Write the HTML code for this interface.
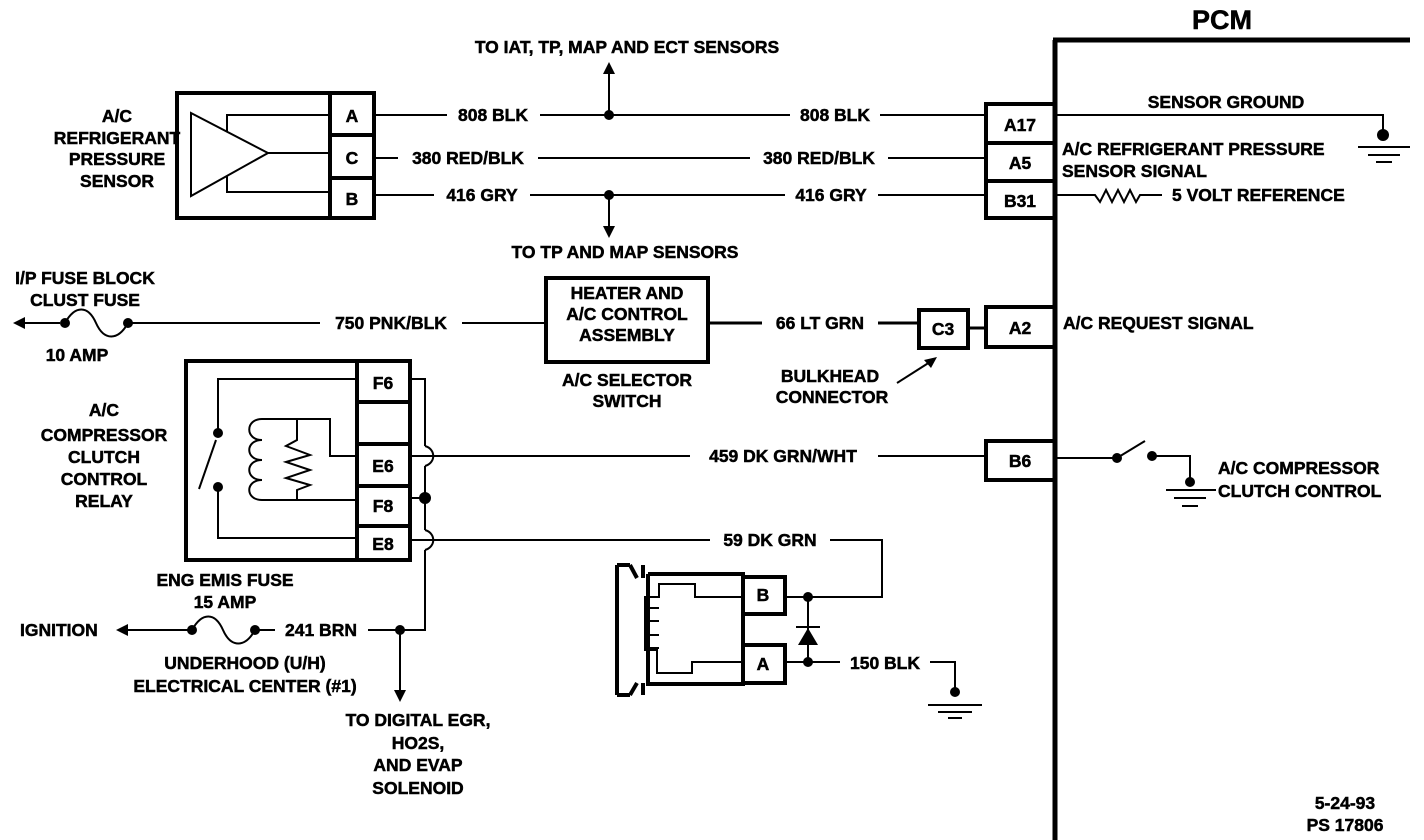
<!DOCTYPE html>
<html><head><style>
html,body{margin:0;padding:0;background:#fff;}
svg{display:block;}
text{font-family:"Liberation Sans",sans-serif;font-weight:bold;font-size:17.5px;fill:#000;stroke:#000;stroke-width:0.5px;}
</style></head><body>
<svg width="1424" height="840" viewBox="0 0 1424 840" xmlns="http://www.w3.org/2000/svg">
<g stroke="#000" fill="none" stroke-width="2">
<rect x="177" y="93" width="197" height="125" stroke-width="4"/>
<line x1="330" y1="93" x2="330" y2="218" stroke-width="4"/>
<line x1="330" y1="135" x2="374" y2="135" stroke-width="4"/>
<line x1="330" y1="178" x2="374" y2="178" stroke-width="4"/>
<polygon points="191,113 191,196 268,153"/>
<polyline points="227,131 227,115 330,115"/>
<polyline points="227,176 227,192 330,192"/>
<line x1="268" y1="153" x2="330" y2="153"/>
<line x1="374" y1="115" x2="447" y2="115"/><line x1="540" y1="115" x2="790" y2="115"/><line x1="880" y1="115" x2="985" y2="115"/>
<line x1="374" y1="158" x2="398" y2="158"/><line x1="538" y1="158" x2="750" y2="158"/><line x1="888" y1="158" x2="985" y2="158"/>
<line x1="374" y1="195" x2="434" y2="195"/><line x1="530" y1="195" x2="785" y2="195"/><line x1="878" y1="195" x2="985" y2="195"/>
<line x1="609" y1="115" x2="609" y2="72"/>
<line x1="609" y1="195" x2="609" y2="228"/>
<line x1="1055" y1="40" x2="1055" y2="840" stroke-width="5"/>
<line x1="1053" y1="40" x2="1410" y2="40" stroke-width="5"/>
<rect x="986" y="104" width="69" height="114" stroke-width="4"/>
<line x1="986" y1="143" x2="1055" y2="143" stroke-width="4"/>
<line x1="986" y1="181" x2="1055" y2="181" stroke-width="4"/>
<polyline points="1055,115 1383,115 1383,135"/>
<line x1="1358" y1="147" x2="1410" y2="147"/><line x1="1368" y1="155" x2="1400" y2="155"/><line x1="1376" y1="162" x2="1392" y2="162"/>
<polyline points="1055,195 1095,195 1100,202 1106,190 1112,202 1118,190 1124,202 1130,190 1136,202 1140,195 1162,195"/>
<line x1="22" y1="323" x2="60" y2="323"/>
<path d="M65,323 C75,305 88,305 96,323 C104,341 118,341 128,323"/>
<line x1="128" y1="323" x2="320" y2="323"/><line x1="462" y1="323" x2="545" y2="323"/>
<rect x="546" y="278" width="162" height="84" stroke-width="4"/>
<line x1="708" y1="323" x2="762" y2="323" stroke-width="3"/><line x1="878" y1="323" x2="918" y2="323" stroke-width="3"/>
<rect x="919" y="310" width="49" height="38" stroke-width="4"/>
<line x1="968" y1="328" x2="986" y2="328" stroke-width="3"/>
<rect x="986" y="307" width="69" height="40" stroke-width="4"/>
<line x1="897" y1="383" x2="930" y2="362"/>
<rect x="186" y="361" width="224" height="199" stroke-width="4"/>
<line x1="357" y1="361" x2="357" y2="560" stroke-width="4"/>
<line x1="357" y1="402" x2="410" y2="402" stroke-width="4"/>
<line x1="357" y1="444" x2="410" y2="444" stroke-width="4"/>
<line x1="357" y1="486" x2="410" y2="486" stroke-width="4"/>
<line x1="357" y1="526" x2="410" y2="526" stroke-width="4"/>
<polyline points="357,379 218,379 218,431"/>
<line x1="199" y1="489" x2="216" y2="440"/>
<polyline points="218,487 218,538 357,538"/>
<polyline points="262,419 330,419 330,456 357,456"/>
<line x1="262" y1="500" x2="357" y2="500"/>
<path d="M262,419 C245,419 245,440 262,440 C245,440 245,460 262,460 C245,460 245,480 262,480 C245,480 245,500 262,500"/>
<polyline points="297,419 297,440 286,446 310,455 286,462 310,470 286,478 310,485 297,490 297,500"/>
<polyline points="410,379 425,379 425,446"/>
<path d="M425,446 C436,449 436,463 425,466"/>
<line x1="425" y1="466" x2="425" y2="530"/>
<path d="M425,530 C436,533 436,547 425,550"/>
<polyline points="425,550 425,630 400,630"/>
<line x1="410" y1="498" x2="425" y2="498"/>
<line x1="410" y1="456" x2="690" y2="456"/><line x1="878" y1="456" x2="986" y2="456"/>
<line x1="410" y1="540" x2="710" y2="540"/><polyline points="830,540 882,540 882,597 808,597"/>
<line x1="128" y1="630" x2="190" y2="630"/>
<path d="M192,630 C202,612 215,612 223,630 C231,648 245,648 255,630"/>
<line x1="255" y1="630" x2="275" y2="630"/><line x1="368" y1="630" x2="400" y2="630"/>
<line x1="400" y1="630" x2="400" y2="692"/>
<rect x="986" y="441" width="69" height="39" stroke-width="4"/>
<line x1="1055" y1="458" x2="1115" y2="458"/>
<line x1="1117" y1="458" x2="1145" y2="441"/>
<polyline points="1152,456 1190,456 1190,482"/>
<line x1="1166" y1="490" x2="1216" y2="490"/><line x1="1174" y1="498" x2="1206" y2="498"/><line x1="1182" y1="506" x2="1198" y2="506"/>
<path d="M617,565 L617,695 M617,565 L630,565 M617,695 L630,695 M630,565 L637,578 M630,695 L637,683" stroke-width="4"/>
<path d="M643,565 L643,578 M643,683 L643,695" stroke-width="4"/>
<polyline points="648,574 743,574 743,684 648,684 648,574" stroke-width="4"/>
<rect x="743" y="577" width="42" height="37" stroke-width="4"/>
<rect x="743" y="645" width="42" height="38" stroke-width="4"/>
<polyline points="743,597 695,597 695,584 659,584 659,597 645,597 645,650 657,650 657,673 692,673 692,662 743,662"/>
<line x1="645" y1="608" x2="659" y2="608"/><line x1="645" y1="621" x2="659" y2="621"/><line x1="645" y1="635" x2="659" y2="635"/><line x1="645" y1="648" x2="659" y2="648"/>
<line x1="785" y1="597" x2="808" y2="597"/>
<line x1="808" y1="597" x2="808" y2="662"/>
<line x1="796" y1="627" x2="820" y2="627"/>
<line x1="785" y1="662" x2="840" y2="662"/>
<polyline points="930,662 955,662 955,690"/>
<line x1="928" y1="705" x2="982" y2="705"/><line x1="938" y1="712" x2="972" y2="712"/><line x1="948" y1="718" x2="962" y2="718"/>
</g>
<g fill="#000">
<circle cx="609" cy="115" r="5"/><circle cx="609" cy="195" r="5"/>
<polygon points="609,62 603,74 615,74"/><polygon points="609,238 603,226 615,226"/>
<circle cx="1383" cy="135" r="6"/>
<circle cx="65" cy="323" r="5"/><circle cx="128" cy="323" r="5"/>
<polygon points="13,323 25,317 25,329"/>
<polygon points="937,357 924,360 931,368"/>
<circle cx="218" cy="433" r="5"/><circle cx="218" cy="487" r="5"/>
<circle cx="425" cy="498" r="6"/>
<circle cx="192" cy="630" r="5"/><circle cx="255" cy="630" r="5"/>
<polygon points="116,630 128,624 128,636"/>
<circle cx="400" cy="630" r="5"/>
<polygon points="400,702 394,690 406,690"/>
<circle cx="1117" cy="458" r="5"/><circle cx="1152" cy="456" r="5"/><circle cx="1190" cy="482" r="5"/>
<circle cx="808" cy="597" r="5"/><circle cx="808" cy="662" r="5"/>
<polygon points="798,645 818,645 808,628"/>
<circle cx="955" cy="692" r="5"/>
</g>
<text x="627" y="53" text-anchor="middle">TO IAT, TP, MAP AND ECT SENSORS</text>
<text x="117" y="122" text-anchor="middle">A/C</text>
<text x="117" y="144" text-anchor="middle">REFRIGERANT</text>
<text x="117" y="165" text-anchor="middle">PRESSURE</text>
<text x="117" y="187" text-anchor="middle">SENSOR</text>
<text x="352" y="122" text-anchor="middle">A</text>
<text x="352" y="164" text-anchor="middle">C</text>
<text x="352" y="205" text-anchor="middle">B</text>
<text x="493" y="121" text-anchor="middle">808 BLK</text>
<text x="835" y="121" text-anchor="middle">808 BLK</text>
<text x="468" y="164" text-anchor="middle">380 RED/BLK</text>
<text x="819" y="164" text-anchor="middle">380 RED/BLK</text>
<text x="482" y="201" text-anchor="middle">416 GRY</text>
<text x="831" y="201" text-anchor="middle">416 GRY</text>
<text x="625" y="258" text-anchor="middle">TO TP AND MAP SENSORS</text>
<text x="1222" y="29" text-anchor="middle" style="font-size:27px">PCM</text>
<text x="1020" y="131" text-anchor="middle">A17</text>
<text x="1020" y="169" text-anchor="middle">A5</text>
<text x="1020" y="207" text-anchor="middle">B31</text>
<text x="1226" y="108" text-anchor="middle">SENSOR GROUND</text>
<text x="1062" y="155">A/C REFRIGERANT PRESSURE</text>
<text x="1062" y="177">SENSOR SIGNAL</text>
<text x="1172" y="201">5 VOLT REFERENCE</text>
<text x="85" y="284" text-anchor="middle">I/P FUSE BLOCK</text>
<text x="85" y="306" text-anchor="middle">CLUST FUSE</text>
<text x="77" y="361" text-anchor="middle">10 AMP</text>
<text x="391" y="329" text-anchor="middle">750 PNK/BLK</text>
<text x="627" y="299" text-anchor="middle">HEATER AND</text>
<text x="627" y="320" text-anchor="middle">A/C CONTROL</text>
<text x="627" y="341" text-anchor="middle">ASSEMBLY</text>
<text x="627" y="386" text-anchor="middle">A/C SELECTOR</text>
<text x="627" y="407" text-anchor="middle">SWITCH</text>
<text x="820" y="329" text-anchor="middle">66 LT GRN</text>
<text x="943" y="335" text-anchor="middle">C3</text>
<text x="1020" y="334" text-anchor="middle">A2</text>
<text x="1063" y="329">A/C REQUEST SIGNAL</text>
<text x="830" y="382" text-anchor="middle">BULKHEAD</text>
<text x="832" y="403" text-anchor="middle">CONNECTOR</text>
<text x="104" y="416" text-anchor="middle">A/C</text>
<text x="104" y="441" text-anchor="middle">COMPRESSOR</text>
<text x="104" y="463" text-anchor="middle">CLUTCH</text>
<text x="104" y="485" text-anchor="middle">CONTROL</text>
<text x="104" y="507" text-anchor="middle">RELAY</text>
<text x="383" y="389" text-anchor="middle">F6</text>
<text x="383" y="472" text-anchor="middle">E6</text>
<text x="383" y="512" text-anchor="middle">F8</text>
<text x="383" y="550" text-anchor="middle">E8</text>
<text x="783" y="462" text-anchor="middle">459 DK GRN/WHT</text>
<text x="1020" y="467" text-anchor="middle">B6</text>
<text x="1218" y="474">A/C COMPRESSOR</text>
<text x="1218" y="497">CLUTCH CONTROL</text>
<text x="770" y="546" text-anchor="middle">59 DK GRN</text>
<text x="763" y="601" text-anchor="middle">B</text>
<text x="763" y="670" text-anchor="middle">A</text>
<text x="885" y="669" text-anchor="middle">150 BLK</text>
<text x="225" y="586" text-anchor="middle">ENG EMIS FUSE</text>
<text x="225" y="608" text-anchor="middle">15 AMP</text>
<text x="20" y="636">IGNITION</text>
<text x="321" y="636" text-anchor="middle">241 BRN</text>
<text x="245" y="669" text-anchor="middle">UNDERHOOD (U/H)</text>
<text x="245" y="692" text-anchor="middle">ELECTRICAL CENTER (#1)</text>
<text x="418" y="726" text-anchor="middle">TO DIGITAL EGR,</text>
<text x="418" y="749" text-anchor="middle">HO2S,</text>
<text x="418" y="771" text-anchor="middle">AND EVAP</text>
<text x="418" y="794" text-anchor="middle">SOLENOID</text>
<text x="1345" y="809" text-anchor="middle">5-24-93</text>
<text x="1345" y="831" text-anchor="middle">PS 17806</text>
</svg>
</body></html>
